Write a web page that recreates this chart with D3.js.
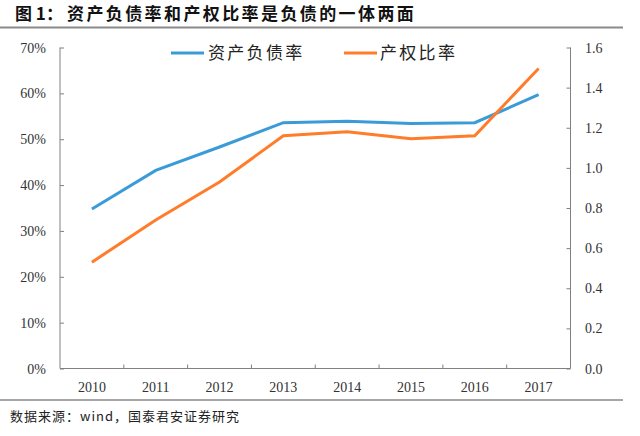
<!DOCTYPE html>
<html><head><meta charset="utf-8">
<script src="https://cdn.jsdelivr.net/npm/d3@7"></script>
<style>body{margin:0;background:#fff}svg{display:block}</style>
</head><body>
<svg id="c" width="640" height="436"></svg>
<script>
const years = ["2010","2011","2012","2013","2014","2015","2016","2017"];
const debtRatio = [34.8, 43.2, 48.3, 53.6, 53.9, 53.4, 53.6, 59.7];
const equityRatio = [0.53, 0.74, 0.93, 1.16, 1.18, 1.145, 1.16, 1.495];
const leftTicks = [0,10,20,30,40,50,60,70];
const rightTicks = [0,0.2,0.4,0.6,0.8,1.0,1.2,1.4,1.6];
const seriesNames = ["资产负债率","产权比率"];
const colors = ["#3b9bd8","#ff7c2b"];

const svg = d3.select("#c");
const L=60, R=570.5, T=47.5, B=368.5;
const x = d3.scaleBand().domain(years).range([L,R]);
const yL = d3.scaleLinear().domain([0,70]).range([B,T]);
const yR = d3.scaleLinear().domain([0,1.6]).range([B,T]);
const serif = "'Liberation Serif','Times New Roman',serif";
const cjk = "'Noto Sans CJK SC',sans-serif";

svg.append("text").attr("x",15).attr("y",20).attr("font-family",cjk).attr("font-weight","bold")
  .attr("font-size",17).attr("fill","#111").text("图 1：");
svg.append("text").attr("x",67).attr("y",20).attr("font-family",cjk).attr("font-weight","bold")
  .attr("font-size",17).attr("letter-spacing",2.4).attr("fill","#111").text("资产负债率和产权比率是负债的一体两面");
svg.append("line").attr("x1",0).attr("x2",623).attr("y1",27.5).attr("y2",27.5).attr("stroke","#8a8a8a").attr("stroke-width",2);
svg.append("line").attr("x1",0).attr("x2",623).attr("y1",400).attr("y2",400).attr("stroke","#8a8a8a").attr("stroke-width",1.5);
svg.append("text").attr("x",10).attr("y",421).attr("font-family",cjk).attr("font-size",13).attr("letter-spacing",1).attr("fill","#222")
  .text("数据来源：wind，国泰君安证券研究");

// axes
const ax = "#808080";
const gl = svg.append("g").attr("transform",`translate(${L},0)`)
  .call(d3.axisRight(yL).tickValues(leftTicks).tickSize(4).tickFormat(""));
const gr = svg.append("g").attr("transform",`translate(${R},0)`)
  .call(d3.axisLeft(yR).tickValues(rightTicks).tickSize(4).tickFormat(""));
const gb = svg.append("g").attr("transform",`translate(0,${B})`)
  .call(d3.axisTop(x).tickValues([]).tickSizeOuter(0));
[gl,gr,gb].forEach(g=>{g.selectAll("path,line").attr("stroke",ax);});
gl.select(".domain").attr("d",`M0,${T}V${B}`);
gr.select(".domain").attr("d",`M0,${T}V${B}`);
gb.select(".domain").attr("d",`M${L},0H${R}`);
// bottom ticks between categories
const bounds = years.slice(1).map(y=>x(y));
svg.append("g").selectAll("line").data(bounds).join("line")
  .attr("x1",d=>d).attr("x2",d=>d).attr("y1",B).attr("y2",B-4).attr("stroke",ax);

svg.append("g").selectAll("text").data(leftTicks).join("text")
  .attr("x",46).attr("y",d=>yL(d)+5).attr("text-anchor","end").attr("font-family",serif)
  .attr("font-size",14).attr("fill","#333").text(d=>d+"%");
svg.append("g").selectAll("text").data(rightTicks).join("text")
  .attr("x",585).attr("y",d=>yR(d)+5).attr("font-family",serif)
  .attr("font-size",14).attr("fill","#333").text(d=>d.toFixed(1));
svg.append("g").selectAll("text").data(years).join("text")
  .attr("x",d=>x(d)+x.bandwidth()/2).attr("y",392).attr("text-anchor","middle").attr("font-family",serif)
  .attr("font-size",14).attr("fill","#333").text(d=>d);

const cx = d=>x(d)+x.bandwidth()/2;
svg.append("path").datum(debtRatio).attr("fill","none").attr("stroke",colors[0]).attr("stroke-width",3)
  .attr("d",d3.line().x((d,i)=>cx(years[i])).y(d=>yL(d)));
svg.append("path").datum(equityRatio).attr("fill","none").attr("stroke",colors[1]).attr("stroke-width",3)
  .attr("d",d3.line().x((d,i)=>cx(years[i])).y(d=>yR(d)));

// legend
const leg = [{x:171,tx:208},{x:344,tx:380}];
leg.forEach((p,i)=>{
  svg.append("line").attr("x1",p.x).attr("x2",p.x+33).attr("y1",53).attr("y2",53).attr("stroke",colors[i]).attr("stroke-width",3);
  svg.append("text").attr("x",p.tx).attr("y",59).attr("font-family",cjk).attr("font-size",17).attr("letter-spacing",2.3).attr("fill","#222").text(seriesNames[i]);
});
</script>
</body></html>
